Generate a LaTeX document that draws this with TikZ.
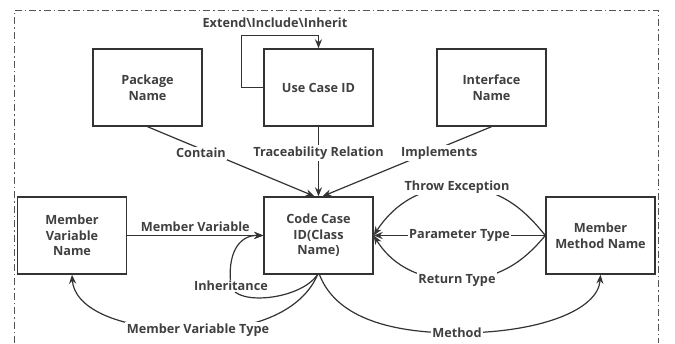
\documentclass[tikz,border=0pt]{standalone}
\usepackage{fontspec}
\setmainfont{Open Sans}
\usetikzlibrary{arrows.meta}
\definecolor{ink}{HTML}{333333}
\definecolor{txt}{HTML}{404040}
\definecolor{frame}{HTML}{555555}
\tikzset{
  box/.style={draw=ink, line width=1.4pt, minimum width=109pt, minimum height=77pt,
    align=center, inner sep=2pt, font=\bfseries\fontsize{12.7}{15.5}\selectfont, text=txt},
  conn/.style={draw=ink, line width=1.2pt},
  arr/.style={conn, -{Stealth[length=9pt,width=7pt]}},
  lbl/.style={fill=white, inner sep=1.5pt, font=\bfseries\fontsize{12.7}{15}\selectfont, text=txt},
}
\begin{document}
\begin{tikzpicture}[x=1pt,y=-1pt]
\useasboundingbox (0,0) rectangle (675,343);
% dash-dot enclosure, open at the bottom
\draw[frame, line width=1pt, dash pattern=on 7pt off 3pt on 1.5pt off 3pt]
  (14,343) -- (14,10) -- (658,10) -- (658,343);

% boxes
\node[box] (pkg)  at (147.5,87.5) {Package\\Name};
\node[box] (uc)   at (318.5,87.5) {Use Case ID};
\node[box] (ifc)  at (491.5,87.5) {Interface\\Name};
\node[box] (mvn)  at (72,235.5)   {Member\\Variable\\Name};
\node[box] (code) at (318.5,235.5) {Code Case\\ID(Class\\Name)};
\node[box] (mmn)  at (600.5,235.5) {Member\\Method Name};

% self relation of the use case
\draw[arr] (uc.west) -- ++(-22,0) -- ++(0,-52) -| (uc.north);
\node[lbl, fill=none] (ext) at (275,23) {Extend\textbackslash Include\textbackslash Inherit};

% relations into the code case
\draw[arr] (pkg.south) -- node[lbl, pos=0.38, xshift=-10pt] {Contain} ([xshift=-4pt]code.north);
\draw[arr] (uc.south) -- node[lbl, pos=0.38] {Traceability Relation} (code.north);
\draw[arr] (ifc.south) -- node[lbl, pos=0.38, xshift=12pt] {Implements} ([xshift=4pt]code.north);
\draw[arr] (mvn.east) -- node[lbl, fill=none, above=2pt] {Member Variable} (code.west);

% inheritance loop
\draw[arr] ([xshift=-1pt]code.south) .. controls (300,300) and (236,306) .. (231,286)
  node[lbl] {Inheritance}
  .. controls (227,255) and (238,235) .. (code.west);

% member variable type
\draw[arr] ([xshift=-1pt]code.south) .. controls (305,305) and (265,330) .. (198,330)
  node[lbl] {Member Variable Type}
  .. controls (110,330) and (74,305) .. (mvn.south);

% method
\draw[arr] ([xshift=1pt]code.south) .. controls (335,315) and (385,333) .. (457,333)
  node[lbl] {Method}
  .. controls (540,333) and (598,310) .. (mmn.south);

% member method relations
\draw[arr] (mmn.west) .. controls (525,210) and (500,187) .. (457,187)
  node[lbl] {Throw Exception}
  .. controls (415,187) and (390,210) .. (code.east);
\draw[arr] (mmn.west) -- node[lbl] {Parameter Type} (code.east);
\draw[arr] (mmn.west) .. controls (525,260) and (500,280) .. (457,280)
  node[lbl] {Return Type}
  .. controls (415,280) and (390,262) .. (code.east);
\end{tikzpicture}
\end{document}
